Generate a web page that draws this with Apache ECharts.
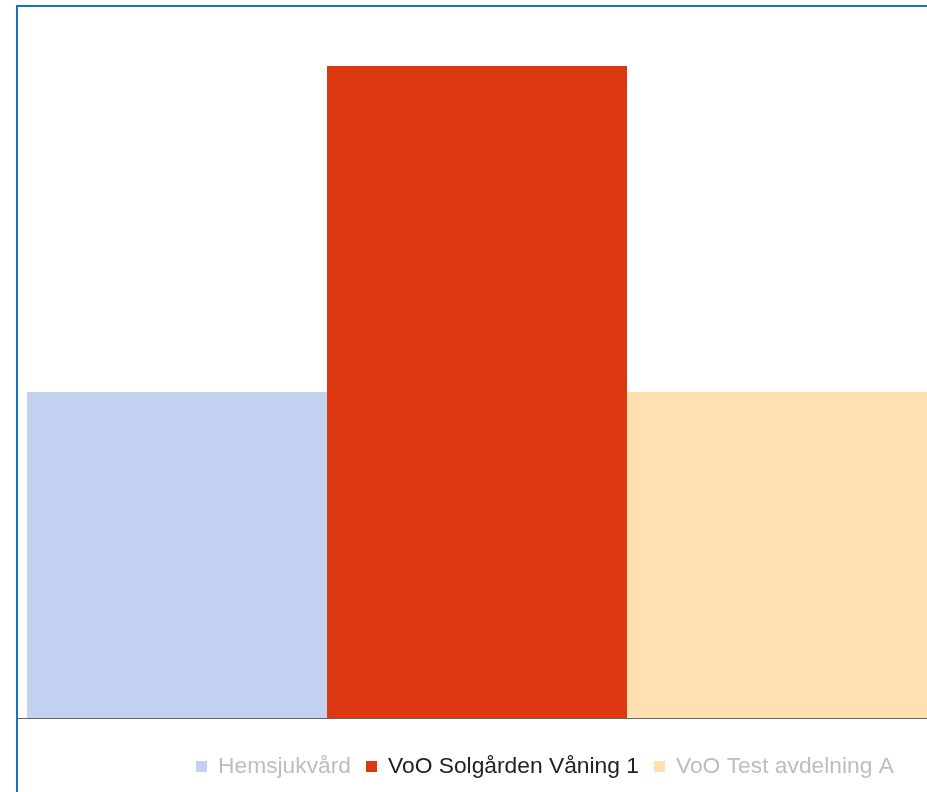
<!DOCTYPE html>
<html>
<head>
<meta charset="utf-8">
<script src="https://cdn.jsdelivr.net/npm/echarts@6/dist/echarts.min.js"></script>
<style>
  html, body { margin: 0; padding: 0; width: 927px; height: 792px; overflow: hidden; background: #fff; }
  #frame { position: absolute; left: 16px; top: 5px; width: 1000px; height: 900px; border: 2px solid #1a6fc4; box-sizing: border-box; }
  #chart { position: absolute; left: 0; top: 0; width: 1000px; height: 792px; }
</style>
</head>
<body>
<div id="frame"></div>
<div id="chart"></div>
<script>
const categories = [''];
const seriesNames = ['Hemsjukvård', 'VoO Solgården Våning 1', 'VoO Test avdelning A'];
const seriesValues = [[1], [2], [1]];
const seriesColors = ['#c2d1f0', '#dc3912', '#ffe0b3'];
const legendTextColors = ['#bdbdbd', '#222222', '#bdbdbd'];

const chart = echarts.init(document.getElementById('chart'));
chart.setOption({
  animation: false,
  grid: { left: 18, right: 64, top: 66, bottom: 74, containLabel: false },
  xAxis: {
    type: 'category',
    data: categories,
    axisTick: { show: false },
    axisLabel: { show: false },
    axisLine: { show: true, lineStyle: { color: '#666666', width: 1 } },
    splitLine: { show: false }
  },
  yAxis: {
    type: 'value', min: 0, max: 2,
    show: false
  },
  legend: {
    left: 196, top: 755, padding: 0,
    itemWidth: 11, itemHeight: 11, itemGap: 15,
    icon: 'rect',
    selectedMode: false,
    textStyle: { fontFamily: 'Liberation Sans, Arial, sans-serif', fontSize: 22.8, padding: [0, 0, 0, 6] },
    data: seriesNames.map((n, i) => ({ name: n, textStyle: { color: legendTextColors[i] } }))
  },
  series: seriesNames.map((n, i) => ({
    name: n,
    type: 'bar',
    data: seriesValues[i],
    barWidth: 300,
    barGap: '0%',
    itemStyle: { color: seriesColors[i] },
    emphasis: { disabled: true }
  }))
});
</script>
</body>
</html>
